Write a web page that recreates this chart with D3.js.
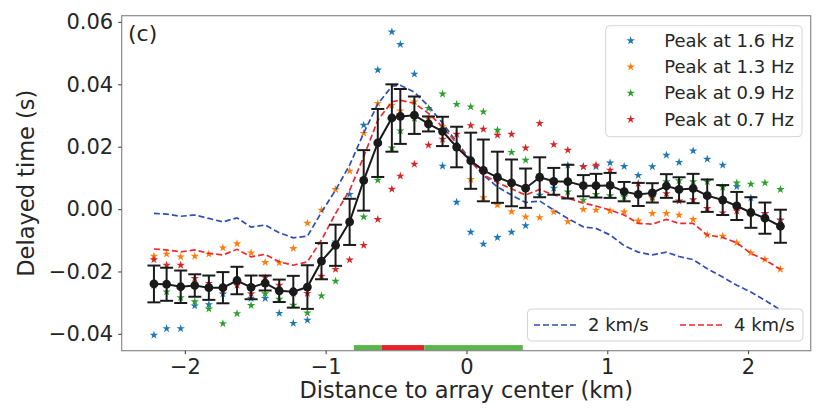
<!DOCTYPE html>
<html>
<head>
<meta charset="utf-8">
<script src="https://cdn.jsdelivr.net/npm/d3@7"></script>
<style>
  html, body { margin: 0; padding: 0; background: #fff; }
  svg { display: block; font-family: "DejaVu Sans", sans-serif; }
</style>
</head>
<body>
<svg id="chart" width="829" height="409"></svg>
<script>
// Station distances from the array center (km)
const distance = [-2.22,-2.13,-2.03,-1.93,-1.83,-1.73,-1.63,-1.53,-1.43,-1.33,-1.23,-1.13,-1.03,-0.93,-0.83,
  -0.73,-0.63,-0.53,-0.47,-0.37,-0.27,-0.17,-0.07,0.03,0.12,0.22,0.32,0.42,0.52,0.62,0.72,0.83,0.92,1.02,
  1.12,1.22,1.32,1.42,1.51,1.61,1.71,1.82,1.92,2.02,2.12,2.23];

// Mean delay and its spread
const meanDelay = [-0.0240,-0.0241,-0.0249,-0.0245,-0.0252,-0.0252,-0.0229,-0.0251,-0.0237,-0.0262,-0.0265,-0.0250,
  -0.0167,-0.0116,-0.0041,0.0092,0.0212,0.0292,0.0297,0.0301,0.0273,0.0249,0.0199,0.0155,0.0124,0.0102,0.0084,
  0.0067,0.0102,0.0089,0.0088,0.0075,0.0075,0.0076,0.0056,0.0047,0.0052,0.0074,0.0063,0.0066,0.0043,0.0029,
  0.0010,-0.0011,-0.0029,-0.0055];
const meanErr = [0.0059,0.0053,0.0052,0.0036,0.0039,0.0050,0.0044,0.0038,0.0024,0.0036,0.0051,0.0070,0.0058,
  0.0066,0.0074,0.0097,0.0109,0.0108,0.0088,0.0060,0.0024,0.0047,0.0065,0.0090,0.0099,0.0082,0.0075,0.0063,
  0.0064,0.0043,0.0054,0.0034,0.0038,0.0040,0.0031,0.0037,0.0031,0.0038,0.0039,0.0047,0.0052,0.0048,0.0045,
  0.0049,0.0050,0.0053];

// Delays picked at each spectral peak
const peak16 = [-0.0404,-0.0383,-0.0383,-0.0310,-0.0306,-0.0272,-0.0235,-0.0286,-0.0286,-0.0334,-0.0366,-0.0356,
  -0.0165,-0.0105,0.0047,0.0269,0.0446,0.0568,0.0528,0.0433,0.0270,0.0138,0.0022,-0.0074,-0.0112,-0.0091,
  -0.0074,-0.0053,0.0045,0.0067,0.0141,0.0136,0.0136,0.0148,0.0137,0.0108,0.0136,0.0173,0.0150,0.0187,0.0160,
  0.0141,0.0072,0.0036,-0.0014,-0.0035];
const peak13 = [-0.0151,-0.0144,-0.0153,-0.0151,-0.0144,-0.0124,-0.0111,-0.0140,-0.0171,-0.0172,-0.0126,-0.0045,
  -0.0003,0.0063,0.0122,0.0243,0.0339,0.0333,0.0315,0.0344,0.0290,0.0264,0.0200,0.0095,0.0037,0.0013,-0.0008,
  -0.0025,-0.0027,-0.0009,-0.0040,-0.0001,-0.0003,-0.0006,-0.0009,-0.0038,-0.0014,-0.0014,-0.0019,-0.0033,
  -0.0083,-0.0087,-0.0108,-0.0140,-0.0161,-0.0193];
const peak09 = [-0.0245,-0.0265,-0.0284,-0.0297,-0.0320,-0.0367,-0.0335,-0.0309,-0.0271,-0.0289,-0.0308,-0.0333,
  -0.0278,-0.0231,-0.0040,-0.0025,0.0093,0.0196,0.0251,0.0291,0.0323,0.0369,0.0336,0.0328,0.0312,0.0253,0.0182,
  0.0157,0.0109,0.0090,0.0055,0.0029,0.0047,0.0043,0.0039,0.0047,0.0036,0.0088,0.0091,0.0088,0.0088,0.0070,
  0.0084,0.0080,0.0084,0.0063];
const peak07 = [-0.0162,-0.0180,-0.0180,-0.0222,-0.0238,-0.0260,-0.0244,-0.0271,-0.0220,-0.0244,-0.0270,-0.0270,
  -0.0215,-0.0193,-0.0163,-0.0116,-0.0033,0.0064,0.0106,0.0144,0.0205,0.0224,0.0240,0.0268,0.0256,0.0237,0.0240,
  0.0196,0.0275,0.0207,0.0189,0.0136,0.0141,0.0125,0.0060,0.0082,0.0040,0.0050,0.0026,0.0030,0.0002,-0.0012,
  -0.0006,-0.0010,-0.0014,-0.0035];

// Predicted delays for two reference velocities
const vel2 = [-0.0014,-0.0016,-0.0023,-0.0019,-0.0030,-0.0041,-0.0028,-0.0058,-0.0051,-0.0076,-0.0092,-0.0087,
  -0.0010,0.0061,0.0141,0.0244,0.0337,0.0394,0.0397,0.0375,0.0330,0.0276,0.0215,0.0157,0.0109,0.0071,0.0045,
  0.0021,0.0026,-0.0003,-0.0030,-0.0057,-0.0062,-0.0083,-0.0117,-0.0138,-0.0147,-0.0138,-0.0152,-0.0162,
  -0.0191,-0.0218,-0.0244,-0.0266,-0.0292,-0.0324];
const vel4 = [-0.0128,-0.0131,-0.0137,-0.0131,-0.0142,-0.0147,-0.0129,-0.0153,-0.0145,-0.0169,-0.0180,-0.0169,
  -0.0099,-0.0014,0.0060,0.0168,0.0285,0.0344,0.0349,0.0339,0.0307,0.0264,0.0211,0.0152,0.0110,0.0085,0.0065,
  0.0045,0.0063,0.0045,0.0035,0.0019,0.0010,-0.0003,-0.0019,-0.0046,-0.0048,-0.0033,-0.0046,-0.0046,-0.0083,
  -0.0091,-0.0108,-0.0142,-0.0163,-0.0193];

// Segments of the surface zone bar (km)
const zoneStart = [-0.8, -0.6, -0.3];
const zoneEnd = [-0.6, -0.3, 0.4];
const zoneKind = ["outer", "core", "outer"];

const xTicks = [-2, -1, 0, 1, 2];
const yTicks = [-0.04, -0.02, 0.00, 0.02, 0.04, 0.06];
const peakLabels = ["Peak at 1.6 Hz", "Peak at 1.3 Hz", "Peak at 0.9 Hz", "Peak at 0.7 Hz"];
const velLabels = ["2 km/s", "4 km/s"];

const peakSeries = [peak16, peak13, peak09, peak07];
const peakColors = ["#1f77b4", "#ff7f0e", "#2ca02c", "#d62728"];
const velSeries = [vel2, vel4];
const velColors = ["#2f4fb0", "#f0282e"];
const zoneColors = { outer: "#5ab54a", core: "#e4222a" };
const textColor = "#262626";

const svg = d3.select("#chart");
const plotL = 121.7, plotR = 810.7, plotT = 15.7, plotB = 350.7;

const x = d3.scaleLinear().domain([-2.449, 2.445]).range([plotL, plotR]);
const y = d3.scaleLinear().domain([-0.0454, 0.062]).range([plotB, plotT]);

const star = d3.symbol().type(d3.symbolStar).size(22);

// Zone bar along the bottom
svg.append("g").selectAll("rect").data(zoneStart).join("rect")
  .attr("x", (d) => x(d))
  .attr("width", (d, i) => x(zoneEnd[i]) - x(d))
  .attr("y", y(-0.0436))
  .attr("height", y(-0.0454) - y(-0.0436))
  .attr("fill", (d, i) => zoneColors[zoneKind[i]]);

// Peak picks
peakSeries.forEach((series, k) => {
  svg.append("g").selectAll("path").data(series).join("path")
    .attr("d", star)
    .attr("transform", (d, i) => `translate(${x(distance[i])},${y(d)})`)
    .attr("fill", peakColors[k]);
});

// Reference velocity curves
const line = (vals) => d3.line().x((d, i) => x(distance[i])).y((d) => y(d))(vals);
velSeries.forEach((series, k) => {
  svg.append("path")
    .attr("d", line(series))
    .attr("fill", "none")
    .attr("stroke", velColors[k])
    .attr("stroke-width", 1.7)
    .attr("stroke-dasharray", "6,3");
});

// Mean delay with error bars
const eb = svg.append("g").attr("stroke", "#1a1a1a").attr("stroke-width", 2);
meanDelay.forEach((m, i) => {
  const cx = x(distance[i]);
  const y0 = y(m - meanErr[i]), y1 = y(m + meanErr[i]);
  eb.append("line").attr("x1", cx).attr("x2", cx).attr("y1", y0).attr("y2", y1);
  eb.append("line").attr("x1", cx - 6.5).attr("x2", cx + 6.5).attr("y1", y0).attr("y2", y0);
  eb.append("line").attr("x1", cx - 6.5).attr("x2", cx + 6.5).attr("y1", y1).attr("y2", y1);
});
svg.append("path")
  .attr("d", line(meanDelay))
  .attr("fill", "none").attr("stroke", "#1a1a1a").attr("stroke-width", 2);
svg.append("g").selectAll("circle").data(meanDelay).join("circle")
  .attr("cx", (d, i) => x(distance[i]))
  .attr("cy", (d) => y(d))
  .attr("r", 4.4)
  .attr("fill", "#1a1a1a");

// Frame
svg.append("rect")
  .attr("x", plotL).attr("y", plotT)
  .attr("width", plotR - plotL).attr("height", plotB - plotT)
  .attr("fill", "none").attr("stroke", "#8a8a8a").attr("stroke-width", 1.2);

// Axes
const xAxis = svg.append("g").attr("transform", `translate(0,${plotB})`)
  .call(d3.axisBottom(x).tickValues(xTicks).tickFormat(d3.format("d")).tickSizeOuter(0).tickSize(3.5).tickPadding(5));
const yAxis = svg.append("g").attr("transform", `translate(${plotL},0)`)
  .call(d3.axisLeft(y).tickValues(yTicks).tickFormat(d3.format(".2f")).tickSizeOuter(0).tickSize(3.5).tickPadding(5));
[xAxis, yAxis].forEach((g) => {
  g.select(".domain").remove();
  g.selectAll(".tick line").attr("stroke", "#555").attr("stroke-width", 1.2);
  g.selectAll(".tick text").attr("fill", textColor)
    .style("font-family", "DejaVu Sans").style("font-size", "21px");
});

// Axis titles
svg.append("text")
  .attr("x", (plotL + plotR) / 2).attr("y", 398)
  .attr("text-anchor", "middle").attr("fill", textColor)
  .style("font-size", "22.5px")
  .text("Distance to array center (km)");
svg.append("text")
  .attr("transform", `translate(34,${(plotT + plotB) / 2}) rotate(-90)`)
  .attr("text-anchor", "middle").attr("fill", textColor)
  .style("font-size", "22.5px")
  .text("Delayed time (s)");

// Panel tag
svg.append("text")
  .attr("x", 128).attr("y", 41)
  .attr("fill", textColor).style("font-size", "22px")
  .text("(c)");

// Peak legend
const lg = svg.append("g");
lg.append("rect")
  .attr("x", 605.7).attr("y", 25.7).attr("width", 196.3).attr("height", 111)
  .attr("rx", 4).attr("fill", "#fff").attr("fill-opacity", 0.8)
  .attr("stroke", "#d4d4d4");
peakLabels.forEach((lab, k) => {
  const cy = 40.7 + k * 26.2;
  lg.append("path").attr("d", star).attr("transform", `translate(630.7,${cy})`).attr("fill", peakColors[k]);
  lg.append("text").attr("x", 664.3).attr("y", cy).attr("dy", "0.35em")
    .attr("fill", textColor).style("font-size", "18px").text(lab);
});

// Velocity legend
const lv = svg.append("g");
lv.append("rect")
  .attr("x", 527.5).attr("y", 309).attr("width", 275.5).attr("height", 32)
  .attr("rx", 4).attr("fill", "#fff").attr("fill-opacity", 0.8)
  .attr("stroke", "#d4d4d4");
velLabels.forEach((lab, k) => {
  const x0 = 534 + k * 146, cy = 325;
  lv.append("line").attr("x1", x0).attr("x2", x0 + 45).attr("y1", cy).attr("y2", cy)
    .attr("stroke", velColors[k]).attr("stroke-width", 1.7).attr("stroke-dasharray", "6,3");
  lv.append("text").attr("x", x0 + 54).attr("y", cy).attr("dy", "0.35em")
    .attr("fill", textColor).style("font-size", "18px").text(lab);
});
</script>
</body>
</html>
